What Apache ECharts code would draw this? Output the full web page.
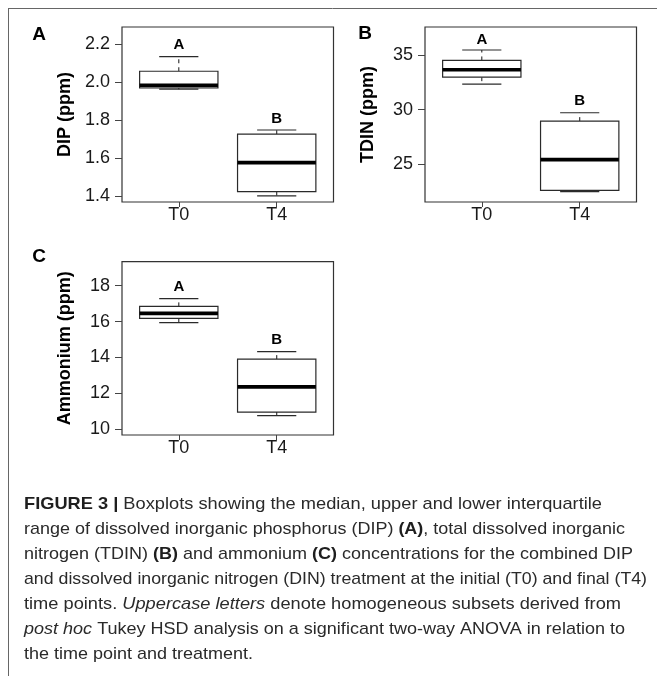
<!DOCTYPE html>
<html>
<head>
<meta charset="utf-8">
<script src="https://cdn.jsdelivr.net/npm/echarts@6/dist/echarts.min.js"></script>
<style>
html,body{margin:0;padding:0;background:#fff;}
#main{width:657px;height:676px;}
</style>
</head>
<body>
<div id="main"></div>
<script>
// ---- data ----
const categories = ['T0', 'T4'];
const groupLetters = ['A', 'B'];
// [min, Q1, median, Q3, max]
const dipStats = [[1.962, 1.968, 1.982, 2.056, 2.133], [1.400, 1.423, 1.575, 1.725, 1.747]];
const tdinStats = [[32.36, 33.00, 33.68, 34.54, 35.50], [22.46, 22.57, 25.40, 28.95, 29.72]];
const ammStats = [[15.94, 16.18, 16.46, 16.85, 17.28], [10.76, 10.96, 12.36, 13.91, 14.33]];
// y value where the group letter is centred
const dipLetterY = [2.195, 1.807];
const tdinLetterY = [36.45, 30.83];
const ammLetterY = [17.94, 14.99];
// tick labels
const dipTicks = [1.4, 1.6, 1.8, 2.0, 2.2];
const tdinTicks = [25, 30, 35];
const ammTicks = [10, 12, 14, 16, 18];
const panelNames = ['A', 'B', 'C'];
const yTitles = ['DIP (ppm)', 'TDIN (ppm)', 'Ammonium (ppm)'];
const captionLines = [
  '{b|FIGURE 3 |} Boxplots showing the median, upper and lower interquartile',
  'range of dissolved inorganic phosphorus (DIP) {b|(A)}, total dissolved inorganic',
  'nitrogen (TDIN) {b|(B)} and ammonium {b|(C)} concentrations for the combined DIP',
  'and dissolved inorganic nitrogen (DIN) treatment at the initial (T0) and final (T4)',
  'time points. {i|Uppercase letters} denote homogeneous subsets derived from',
  '{i|post hoc} Tukey HSD analysis on a significant two-way ANOVA in relation to',
  'the time point and treatment.'
];

// ---- layout / style ----
const FONT = "'Liberation Sans', Arial, Helvetica, sans-serif";
const grids = [
  { left: 122, top: 27, width: 211.5, height: 175 },
  { left: 425, top: 27, width: 211.5, height: 175 },
  { left: 122, top: 261.7, width: 211.5, height: 173.3 }
];
const yRanges = [[1.368, 2.289], [21.5, 37.62], [9.68, 19.34]];
const yDecimals = [1, 0, 0];
const statsList = [dipStats, tdinStats, ammStats];
const letterYList = [dipLetterY, tdinLetterY, ammLetterY];
const tickList = [dipTicks, tdinTicks, ammTicks];
const panelLabelPos = [[39, 35], [365, 34], [39, 257]];
// caption layout: left x, first line centre, line step, printed widths of the lines
const CAP_X = 24, CAP_Y0 = 504, CAP_STEP = 25, CAP_SIZE = 17;
const capWidths = [578, 601, 609, 623, 597, 601, 229];

const chart = echarts.init(document.getElementById('main'), null, { renderer: 'canvas' });

function renderBox(params, api) {
  const x = api.value(0);
  const mn = api.value(1), q1 = api.value(2), md = api.value(3), q3 = api.value(4), mx = api.value(5);
  const ly = api.value(6);
  const hw = 0.4, cw = 0.2;
  const c = (a, b) => api.coord([a, b]);
  const lineStyle = { stroke: '#2a2a2a', lineWidth: 1.2, fill: null };
  const pTL = c(x - hw, q3), pBR = c(x + hw, q1);
  const children = [
    { type: 'line', shape: { x1: c(x, q3)[0], y1: c(x, q3)[1], x2: c(x, mx)[0], y2: c(x, mx)[1] },
      style: { stroke: '#2a2a2a', lineWidth: 1.1, lineDash: [4, 4] } },
    { type: 'line', shape: { x1: c(x, q1)[0], y1: c(x, q1)[1], x2: c(x, mn)[0], y2: c(x, mn)[1] },
      style: { stroke: '#2a2a2a', lineWidth: 1.1, lineDash: [4, 4] } },
    { type: 'line', shape: { x1: c(x - cw, mx)[0], y1: c(x - cw, mx)[1], x2: c(x + cw, mx)[0], y2: c(x + cw, mx)[1] }, style: lineStyle },
    { type: 'line', shape: { x1: c(x - cw, mn)[0], y1: c(x - cw, mn)[1], x2: c(x + cw, mn)[0], y2: c(x + cw, mn)[1] }, style: lineStyle },
    { type: 'rect', shape: { x: pTL[0], y: pTL[1], width: pBR[0] - pTL[0], height: pBR[1] - pTL[1] },
      style: { fill: '#ffffff', stroke: '#2a2a2a', lineWidth: 1.2 } },
    { type: 'line', shape: { x1: c(x - hw, md)[0], y1: c(x - hw, md)[1], x2: c(x + hw, md)[0], y2: c(x + hw, md)[1] },
      style: { stroke: '#000', lineWidth: 3.6 } },
    { type: 'text', x: c(x, ly)[0], y: c(x, ly)[1],
      style: { text: groupLetters[params.dataIndex], fontFamily: FONT, fontWeight: 'bold', fontSize: 15, fill: '#000', align: 'center', verticalAlign: 'middle' } }
  ];
  return { type: 'group', children };
}

const xAxes = [], yAxes = [], series = [];
grids.forEach((g, i) => {
  xAxes.push({
    type: 'value', gridIndex: i, min: 0.42, max: 2.58,
    splitLine: { show: false },
    axisLine: { show: false },
    axisTick: { show: true, length: 5, customValues: [1, 2], lineStyle: { color: '#444', width: 1 } },
    axisLabel: { show: true, customValues: [1, 2], margin: 4, fontFamily: FONT, fontSize: 18, color: '#1a1a1a',
      formatter: v => categories[Math.round(v) - 1] || '' }
  });
  yAxes.push({
    type: 'value', gridIndex: i, min: yRanges[i][0], max: yRanges[i][1],
    splitLine: { show: false },
    axisLine: { show: false },
    axisTick: { show: true, length: 7, customValues: tickList[i], lineStyle: { color: '#444', width: 1 } },
    axisLabel: { show: true, customValues: tickList[i], margin: 12, fontFamily: FONT, fontSize: 18, color: '#1a1a1a',
      formatter: v => Number(v).toFixed(yDecimals[i]) },
    name: yTitles[i], nameLocation: 'middle', nameGap: 48,
    nameTextStyle: { fontFamily: FONT, fontWeight: 'bold', fontSize: 18, color: '#000' }
  });
  series.push({
    type: 'custom', xAxisIndex: i, yAxisIndex: i,
    renderItem: renderBox,
    encode: { x: 0, y: [1, 2, 3, 4, 5] },
    data: statsList[i].map((s, k) => [k + 1].concat(s).concat([letterYList[i][k]])),
    silent: true
  });
});

// caption: measure each rich line so it can be condensed to the printed width
const measureCtx = document.createElement('canvas').getContext('2d');
const segFont = { n: CAP_SIZE + 'px ' + FONT, b: 'bold ' + CAP_SIZE + 'px ' + FONT, i: 'italic ' + CAP_SIZE + 'px ' + FONT };
function richWidth(line) {
  let w = 0, last = 0, m;
  const re = /\{(\w)\|([^}]*)\}/g;
  while ((m = re.exec(line)) !== null) {
    measureCtx.font = segFont.n; w += measureCtx.measureText(line.slice(last, m.index)).width;
    measureCtx.font = segFont[m[1]]; w += measureCtx.measureText(m[2]).width;
    last = re.lastIndex;
  }
  measureCtx.font = segFont.n; w += measureCtx.measureText(line.slice(last)).width;
  return w;
}

const graphics = [
  { type: 'line', shape: { x1: 8, y1: 8.5, x2: 657, y2: 8.5 }, style: { stroke: '#666', lineWidth: 1 }, silent: true },
  { type: 'line', shape: { x1: 8.5, y1: 8, x2: 8.5, y2: 676 }, style: { stroke: '#666', lineWidth: 1 }, silent: true }
];
panelNames.forEach((p, i) => {
  graphics.push({ type: 'text', x: panelLabelPos[i][0], y: panelLabelPos[i][1],
    style: { text: p, fontFamily: FONT, fontWeight: 'bold', fontSize: 19, fill: '#000', align: 'center', verticalAlign: 'middle' } });
});
const rich = {
  b: { fontFamily: FONT, fontWeight: 'bold', fontSize: CAP_SIZE, fill: '#1e1e1e' },
  i: { fontFamily: FONT, fontStyle: 'italic', fontSize: CAP_SIZE, fill: '#2a2a2a' }
};
captionLines.forEach((line, k) => {
  graphics.push({ type: 'text', x: CAP_X, y: CAP_Y0 + k * CAP_STEP, scaleX: capWidths[k] / richWidth(line),
    style: { text: line, rich, fontFamily: FONT, fontSize: CAP_SIZE, fill: '#2a2a2a', align: 'left', verticalAlign: 'middle' } });
});

chart.setOption({
  backgroundColor: '#fff',
  animation: false,
  grid: grids.map(g => Object.assign({ show: true, borderColor: '#333', borderWidth: 1.2, backgroundColor: 'transparent' }, g)),
  xAxis: xAxes,
  yAxis: yAxes,
  series,
  graphic: graphics
});
</script>
</body>
</html>
